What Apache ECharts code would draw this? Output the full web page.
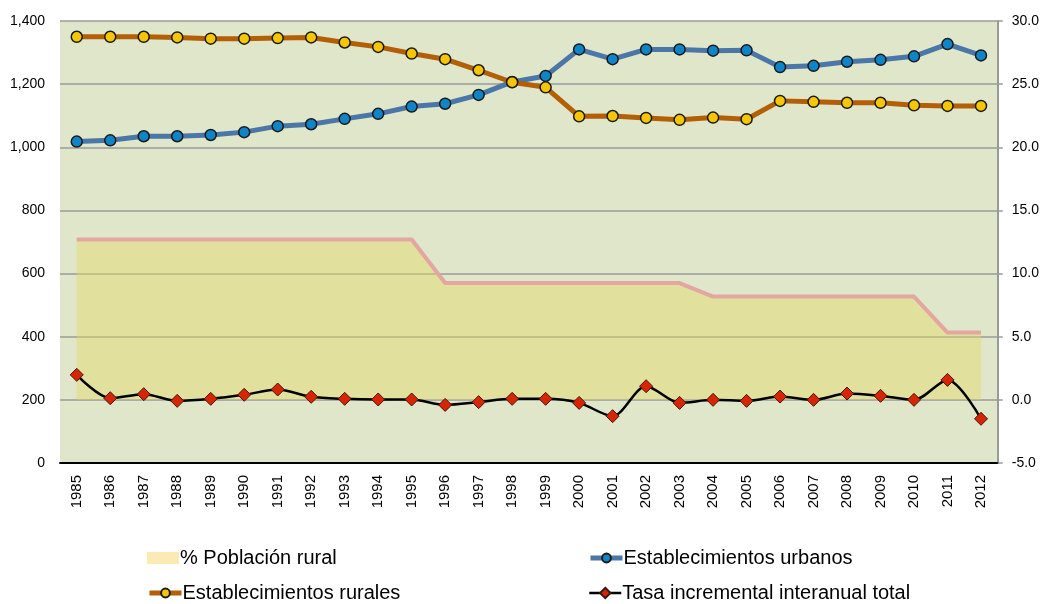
<!DOCTYPE html>
<html>
<head>
<meta charset="utf-8">
<script src="https://cdn.jsdelivr.net/npm/echarts@6/dist/echarts.min.js"></script>
<style>
html,body{margin:0;padding:0;background:#fff;}
#chart{width:1042px;height:604px;}
</style>
</head>
<body>
<div id="chart"></div>
<script>
const years = ['1985','1986','1987','1988','1989','1990','1991','1992','1993','1994','1995','1996','1997','1998','1999','2000','2001','2002','2003','2004','2005','2006','2007','2008','2009','2010','2011','2012'];
const poblacionRural = [12.7,12.7,12.7,12.7,12.7,12.7,12.7,12.7,12.7,12.7,12.7,9.25,9.25,9.25,9.25,9.25,9.25,9.25,9.25,8.18,8.18,8.18,8.18,8.18,8.18,8.18,5.33,5.33];
const estUrbanos = [1018,1022,1035,1035,1039,1048,1067,1073,1090,1106,1129,1138,1166,1207,1226,1310,1279,1310,1310,1306,1307,1254,1258,1271,1277,1288,1327,1291];
const estRurales = [1350,1350,1350,1348,1344,1344,1346,1348,1332,1318,1297,1279,1244,1206,1190,1098,1099,1093,1087,1094,1089,1147,1144,1141,1141,1133,1131,1131];
const tasaIncremental = [1.98,0.13,0.45,-0.08,0.08,0.40,0.82,0.24,0.08,0.03,0.03,-0.40,-0.18,0.08,0.08,-0.24,-1.29,1.08,-0.24,0.0,-0.08,0.26,0.0,0.50,0.32,0.0,1.58,-1.50];
const leftTicks = {min:0, max:1400, interval:200};
const rightTicks = {min:-5, max:30, interval:5};

const FONT = '"Liberation Sans", "DejaVu Sans", sans-serif';
const chart = echarts.init(document.getElementById('chart'));

function legendAt(item, left, top, h) {
  return {
    data: [item], left: left, top: top, itemWidth: 32, itemHeight: h, itemGap: 0,
    textStyle: {fontFamily: FONT, fontSize: 20, color: '#000', padding: [0,0,0,-4]},
    selectedMode: false, padding: 0
  };
}

chart.setOption({
  animation: false,
  backgroundColor: '#ffffff',
  grid: {left: 60, right: 41, top: 21, bottom: 141, show: true, backgroundColor: '#DFE6C9', borderWidth: 0},
  legend: [
    legendAt({name: '% Población rural', icon: 'rect', itemStyle: {color: '#FCEAB4', borderWidth: 0}}, 147, 548, 12),
    legendAt({name: 'Establecimientos urbanos', lineStyle: {width: 5}}, 588, 548, 11),
    legendAt({name: 'Establecimientos rurales', lineStyle: {width: 5}}, 147, 583, 11),
    legendAt({name: 'Tasa incremental interanual total', lineStyle: {width: 2.5}}, 588, 583, 13)
  ],
  xAxis: {
    type: 'category', data: years, boundaryGap: true,
    axisLine: {lineStyle: {color: '#000', width: 2}},
    axisTick: {show: false},
    axisLabel: {rotate: 90, fontFamily: FONT, fontSize: 15, color: '#000', margin: 12}
  },
  yAxis: [
    {
      type: 'value', min: leftTicks.min, max: leftTicks.max, interval: leftTicks.interval,
      axisLine: {show: false}, axisTick: {show: false},
      axisLabel: {fontFamily: FONT, fontSize: 14, color: '#000', margin: 15,
        formatter: v => v.toLocaleString('en-US')},
      splitLine: {lineStyle: {color: '#9a9a9a', width: 1.5}}
    },
    {
      type: 'value', position: 'right', min: rightTicks.min, max: rightTicks.max, interval: rightTicks.interval,
      axisLine: {show: true, lineStyle: {color: '#9a9a9a', width: 2}},
      axisTick: {show: true, length: 5, lineStyle: {color: '#9a9a9a', width: 1.5}},
      axisLabel: {fontFamily: FONT, fontSize: 14, color: '#000', margin: 14,
        formatter: v => v.toFixed(1)},
      splitLine: {show: false}
    }
  ],
  series: [
    {
      name: '% Población rural', type: 'line', yAxisIndex: 1, data: poblacionRural,
      symbol: 'none', z: 1,
      lineStyle: {color: '#E3A6A3', width: 4},
      itemStyle: {color: '#FCEAB4'},
      areaStyle: {color: 'rgba(231,217,98,0.6)', origin: 'auto'}
    },
    {
      name: 'Establecimientos urbanos', type: 'line', yAxisIndex: 0, data: estUrbanos,
      symbol: 'circle', symbolSize: 11, z: 3,
      lineStyle: {color: '#4A76A8', width: 5},
      itemStyle: {color: '#0F85C9', borderColor: '#1a1a1a', borderWidth: 1.5}
    },
    {
      name: 'Establecimientos rurales', type: 'line', yAxisIndex: 0, data: estRurales,
      symbol: 'circle', symbolSize: 11, z: 3,
      lineStyle: {color: '#B25F06', width: 5},
      itemStyle: {color: '#F7C600', borderColor: '#1a1a1a', borderWidth: 1.5}
    },
    {
      name: 'Tasa incremental interanual total', type: 'line', yAxisIndex: 1, data: tasaIncremental,
      smooth: 0.3, symbol: 'diamond', symbolSize: 13, z: 4,
      lineStyle: {color: '#000', width: 2.5},
      itemStyle: {color: '#D92400', borderColor: '#3a1a10', borderWidth: 1}
    }
  ]
});
</script>
</body>
</html>
